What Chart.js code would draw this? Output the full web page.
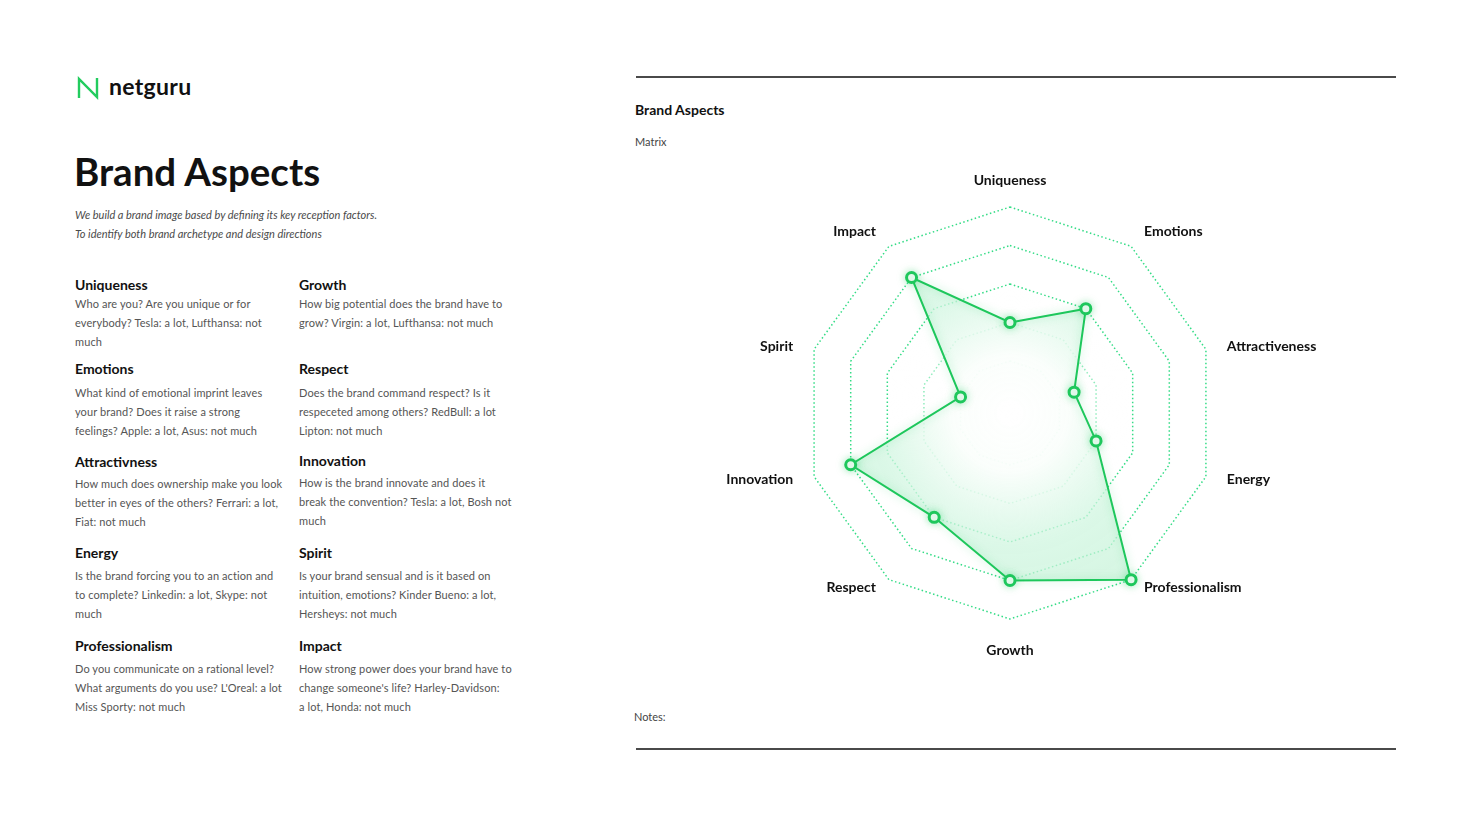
<!DOCTYPE html>
<html>
<head>
<meta charset="utf-8">
<script src="https://cdn.jsdelivr.net/npm/chart.js@4.4.0/dist/chart.umd.min.js"></script>
<style>
  html, body { margin: 0; padding: 0; background: #fff; }
  body { width: 1470px; height: 827px; position: relative; overflow: hidden; font-family: Lato, "Open Sans", sans-serif; color: #111; }
  .abs { position: absolute; }
  .logo-text { left: 109px; top: 71px; font-size: 23px; font-weight: 700; line-height: 30px; letter-spacing: 0.3px; }
  h1 { position: absolute; left: 74px; top: 148px; margin: 0; font-size: 38.5px; line-height: 46px; font-weight: 700; }
  .intro { left: 75px; top: 205px; font-size: 11px; line-height: 19px; font-style: italic; color: #4a4a4a; }
  .hd { position: absolute; font-size: 14px; font-weight: 700; line-height: 18px; }
  .tx { position: absolute; font-size: 11px; line-height: 19px; color: #555; white-space: nowrap; letter-spacing: 0.1px; }
  .rule { position: absolute; left: 636px; width: 760px; height: 2px; background: #4a4a4a; }
  .small { font-size: 11px; color: #444; line-height: 16px; }
  #wrap { position: absolute; left: 636px; top: 150px; width: 760px; height: 560px; }
</style>
</head>
<body>
<svg class="abs" style="left:76px;top:76px" width="26" height="24" viewBox="0 0 26 24">
  <path d="M3 22 V3 L21 21 V2" fill="none" stroke="#22cc5e" stroke-width="2.4" stroke-linejoin="miter"/>
</svg>
<div class="abs logo-text">netguru</div>

<h1>Brand Aspects</h1>
<div class="abs intro">We build a brand image based by defining its key reception factors.<br>To identify both brand archetype and design directions</div>

<div class="hd" style="left:75px;top:276px">Uniqueness</div>
<div class="tx" style="left:75px;top:294px">Who are you? Are you unique or for<br>everybody? Tesla: a lot, Lufthansa: not<br>much</div>
<div class="hd" style="left:299px;top:276px">Growth</div>
<div class="tx" style="left:299px;top:294px">How big potential does the brand have to<br>grow? Virgin: a lot, Lufthansa: not much</div>

<div class="hd" style="left:75px;top:360px">Emotions</div>
<div class="tx" style="left:75px;top:383px">What kind of emotional imprint leaves<br>your brand? Does it raise a strong<br>feelings? Apple: a lot, Asus: not much</div>
<div class="hd" style="left:299px;top:360px">Respect</div>
<div class="tx" style="left:299px;top:383px">Does the brand command respect? Is it<br>respeceted among others? RedBull: a lot<br>Lipton: not much</div>

<div class="hd" style="left:75px;top:453px">Attractivness</div>
<div class="tx" style="left:75px;top:474px">How much does ownership make you look<br>better in eyes of the others? Ferrari: a lot,<br>Fiat: not much</div>
<div class="hd" style="left:299px;top:452px">Innovation</div>
<div class="tx" style="left:299px;top:473px">How is the brand innovate and does it<br>break the convention? Tesla: a lot, Bosh not<br>much</div>

<div class="hd" style="left:75px;top:544px">Energy</div>
<div class="tx" style="left:75px;top:566px">Is the brand forcing you to an action and<br>to complete? Linkedin: a lot, Skype: not<br>much</div>
<div class="hd" style="left:299px;top:544px">Spirit</div>
<div class="tx" style="left:299px;top:566px">Is your brand sensual and is it based on<br>intuition, emotions? Kinder Bueno: a lot,<br>Hersheys: not much</div>

<div class="hd" style="left:75px;top:637px">Professionalism</div>
<div class="tx" style="left:75px;top:659px">Do you communicate on a rational level?<br>What arguments do you use? L'Oreal: a lot<br>Miss Sporty: not much</div>
<div class="hd" style="left:299px;top:637px">Impact</div>
<div class="tx" style="left:299px;top:659px">How strong power does your brand have to<br>change someone's life? Harley-Davidson:<br>a lot, Honda: not much</div>

<div class="rule" style="top:76px"></div>
<div class="hd" style="left:635px;top:101px">Brand Aspects</div>
<div class="abs small" style="left:635px;top:134px">Matrix</div>
<div class="abs small" style="left:634px;top:709px">Notes:</div>
<div class="rule" style="top:748px"></div>

<div id="wrap"><canvas id="radar"></canvas></div>

<script>
const categories = ["Uniqueness", "Emotions", "Attractiveness", "Energy", "Professionalism", "Growth", "Respect", "Innovation", "Spirit", "Impact"];
const scores = [2, 3, 1.4, 2, 5, 4, 3, 4, 1, 4];
const ringValues = [1, 2, 3, 4, 5];

const green = "#1ec75c";
const gridGreen = "rgba(52, 220, 134, 1)";

// soft white glow in the middle, over the rings
const centerGlow = {
  id: "centerGlow",
  beforeDatasetsDraw(chart) {
    const s = chart.scales.r;
    const ctx = chart.ctx;
    const r = s.drawingArea * 0.6;
    const g = ctx.createRadialGradient(s.xCenter, s.yCenter, 0, s.xCenter, s.yCenter, r);
    g.addColorStop(0, "rgba(255,255,255,0.93)");
    g.addColorStop(0.55, "rgba(255,255,255,0.7)");
    g.addColorStop(1, "rgba(255,255,255,0)");
    ctx.save();
    ctx.fillStyle = g;
    ctx.beginPath();
    ctx.arc(s.xCenter, s.yCenter, r, 0, Math.PI * 2);
    ctx.fill();
    ctx.restore();
  },
  beforeDatasetDraw(chart) {
    const ctx = chart.ctx;
    ctx.save();
    ctx.shadowColor = "rgba(30, 200, 95, 0.35)";
    ctx.shadowBlur = 9;
  },
  afterDatasetDraw(chart) {
    chart.ctx.restore();
  }
};

// axis names around the polygon
const axisNames = {
  id: "axisNames",
  afterDraw(chart) {
    const s = chart.scales.r;
    const ctx = chart.ctx;
    const n = chart.data.labels.length;
    ctx.save();
    ctx.font = "700 14px Lato, sans-serif";
    ctx.fillStyle = "#111";
    chart.data.labels.forEach((name, i) => {
      const deg = i * 360 / n;
      let x, y, align, base;
      if (deg === 0) {
        ({ x, y } = s.getPointPosition(i, s.drawingArea + 20)); align = "center"; base = "bottom";
      } else if (deg === 180) {
        ({ x, y } = s.getPointPosition(i, s.drawingArea + 24)); align = "center"; base = "top";
      } else {
        const upperDiagonal = deg < 60 || deg > 300;
        x = s.getPointPosition(i, s.drawingArea + 22).x;
        y = s.getPointPosition(i, s.drawingArea + (upperDiagonal ? 18 : 10)).y;
        align = deg < 180 ? "left" : "right"; base = "middle";
      }
      ctx.textAlign = align;
      ctx.textBaseline = base;
      ctx.fillText(name, x, y);
    });
    ctx.restore();
  }
};

new Chart("radar", {
  type: "radar",
  data: {
    labels: categories,
    datasets: [{
      data: scores,
      fill: true,
      borderColor: green,
      borderWidth: 2,
      pointRadius: 5,
      pointHoverRadius: 5,
      pointBorderWidth: 3,
      pointBackgroundColor: "#fff",
      pointBorderColor: green,
      backgroundColor: (c) => {
        const s = c.chart.scales.r;
        if (!s || !c.chart.chartArea) return "rgba(200,244,218,0.7)";
        const g = c.chart.ctx.createRadialGradient(s.xCenter, s.yCenter, 0, s.xCenter, s.yCenter, s.drawingArea);
        g.addColorStop(0, "rgba(255,255,255,0.95)");
        g.addColorStop(0.28, "rgba(250,254,251,0.85)");
        g.addColorStop(0.65, "rgba(205,245,222,0.72)");
        g.addColorStop(1, "rgba(196,242,214,0.7)");
        return g;
      }
    }]
  },
  options: {
    responsive: true,
    maintainAspectRatio: false,
    animation: false,
    layout: { padding: { top: 57, bottom: 91, left: 168, right: 180 } },
    plugins: { legend: { display: false }, tooltip: { enabled: false } },
    scales: {
      r: {
        min: -0.35,
        max: 5,
        afterBuildTicks: (s) => { s.ticks = [s.min, ...ringValues].map(v => ({ value: v })); },
        ticks: { display: false },
        angleLines: { display: false },
        pointLabels: { display: false },
        grid: { circular: false, color: gridGreen, lineWidth: 1.5, borderDash: [1.5, 2.5] },
        border: { dash: [1.5, 2.5] }
      }
    }
  },
  plugins: [centerGlow, axisNames]
});
</script>
</body>
</html>
